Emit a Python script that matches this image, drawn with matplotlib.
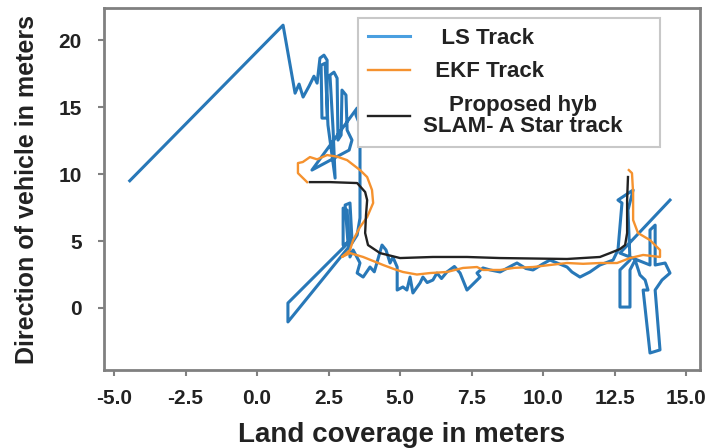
import matplotlib.pyplot as plt

plt.rcParams['font.family'] = ['Liberation Sans', 'DejaVu Sans']
plt.rcParams['font.weight'] = 'bold'

# LS track (noisy least-squares estimate)
ls_x = [-4.45, 0.91, 1.33, 1.47, 1.61, 1.82, 1.99, 2.10, 2.20, 2.34, 2.45, 2.45, 2.27, 2.24,
        2.38, 2.48, 2.73, 2.66, 2.55, 2.69, 2.80, 2.83, 2.94, 2.97, 3.11, 3.15, 3.32, 3.22,
        1.92, 3.50, 3.46, 3.60, 3.60, 3.50, 3.32, 1.08, 1.08, 3.18, 3.08, 3.25, 3.32, 3.01,
        3.01, 3.15, 3.25, 3.36, 3.60, 3.50, 3.71, 3.95, 4.10, 4.37, 4.51, 4.65, 4.75, 4.90,
        4.90, 5.10, 5.24, 5.35, 5.45, 5.70, 5.80, 5.95, 6.15, 6.29, 6.45, 6.64, 6.90, 7.10,
        7.34, 7.45, 7.80, 7.69, 7.90, 8.15, 8.50, 8.95, 9.09, 9.40, 9.65, 10.0, 10.24, 10.84,
        11.01, 11.29, 11.64, 11.99, 12.45, 12.62, 12.76, 12.62, 13.15, 12.97, 13.04, 12.69,
        12.69, 13.04, 13.04, 13.22, 13.39, 13.57, 13.67, 13.50, 13.74, 14.09, 13.92, 14.16,
        14.44, 14.27, 13.92, 13.92, 13.74, 13.74, 12.69, 14.44]
ls_y = [9.50, 21.12, 16.04, 16.72, 15.75, 16.57, 17.31, 16.79, 18.66, 18.88, 18.51, 14.18,
        14.18, 18.13, 18.28, 13.66, 9.70, 13.28, 17.39, 17.61, 17.16, 12.54, 12.91, 16.27,
        15.90, 13.28, 12.54, 11.79, 10.30, 14.93, 14.40, 13.66, 6.72, 5.45, 4.85, -1.04,
        0.37, 4.85, 7.69, 7.84, 5.07, 4.70, 7.46, 7.31, 3.81, 4.33, 3.36, 2.61, 2.31, 3.06,
        2.70, 4.70, 4.33, 3.36, 3.80, 3.06, 1.34, 1.57, 1.34, 2.31, 1.12, 1.87, 2.31, 1.90,
        2.09, 2.61, 2.20, 2.69, 3.10, 2.61, 1.34, 1.57, 2.31, 2.61, 2.99, 2.84, 2.69, 3.21,
        3.36, 2.95, 2.84, 3.30, 3.58, 3.06, 2.69, 2.31, 2.69, 3.21, 3.58, 4.33, 7.84, 8.06,
        8.81, 7.31, 3.58, 2.84, 0.07, 0.07, 2.84, 3.58, 2.46, 2.09, 1.34, 1.34, -3.36, -3.13,
        1.34, 2.09, 2.61, 3.36, 3.21, 6.19, 5.82, 3.21, 4.10, 8.06]

# EKF track
ekf_x = [1.75, 1.43, 1.43, 1.60, 1.85, 2.10, 2.45, 2.80, 3.15, 3.60, 3.85, 4.02, 4.06, 3.85,
         3.60, 3.36, 3.25, 2.97, 3.25, 3.71, 4.41, 4.80, 5.10, 5.59, 6.05, 6.64, 7.20, 7.69,
         7.90, 8.50, 9.00, 9.65, 10.24, 10.84, 11.40, 11.99, 12.59, 13.04, 13.50, 14.09,
         14.09, 13.74, 13.32, 13.15, 13.15, 13.11, 13.00]
ekf_y = [9.40, 10.07, 10.82, 10.90, 11.27, 11.10, 11.42, 11.30, 11.04, 10.30, 9.78, 8.81,
         7.84, 6.79, 6.04, 5.07, 4.33, 3.81, 4.10, 3.81, 3.21, 2.90, 2.69, 2.50, 2.61, 2.69,
         2.99, 3.06, 2.84, 2.84, 3.00, 3.06, 3.21, 3.36, 3.30, 3.36, 3.36, 3.73, 3.96, 3.81,
         4.33, 5.07, 5.60, 6.57, 8.58, 10.07, 10.30]

# proposed hybrid SLAM - A* track
hyb_x = [1.85, 2.55, 3.50, 3.78, 3.85, 3.81, 3.78, 3.88, 4.30, 5.00, 6.15, 7.34, 8.50,
         10.84, 11.99, 12.34, 12.69, 12.87, 12.94, 12.94, 12.97]
hyb_y = [9.40, 9.40, 9.33, 8.66, 8.06, 6.94, 5.60, 4.70, 4.10, 3.73, 3.81, 3.81, 3.73,
         3.66, 3.81, 4.10, 4.40, 4.70, 5.60, 8.06, 9.78]

labels = ['   LS Track', '  EKF Track', 'Proposed hyb\nSLAM- A Star track']

fig = plt.figure(figsize=(7.28, 4.48), dpi=100)
ax = fig.add_axes([0.1429, 0.1741, 0.8187, 0.808])

ax.plot(ls_x, ls_y, color='#2878b8', lw=2.2, label=labels[0])
ax.plot(ekf_x, ekf_y, color='#f5922f', lw=1.7, label=labels[1])
ax.plot(hyb_x, hyb_y, color='#222222', lw=1.7, label=labels[2])

ax.set_xlim(-5.35, 15.49)
ax.set_ylim(-4.63, 22.4)
ax.set_xticks([-5, -2.5, 0, 2.5, 5, 7.5, 10, 12.5, 15])
ax.set_xticklabels(['-5.0', '-2.5', '0.0', '2.5', '5.0', '7.5', '10.0', '12.5', '15.0'])
ax.set_yticks([0, 5, 10, 15, 20])

for s in ax.spines.values():
    s.set_color('#808080')
    s.set_linewidth(2.0)
ax.tick_params(axis='both', colors='#808080', length=4, width=1.5, labelcolor='#222222',
               labelsize=15)
ax.tick_params(axis='x', pad=10)
ax.tick_params(axis='y', pad=12)
for t in ax.get_xticklabels() + ax.get_yticklabels():
    t.set_fontweight('bold')

ax.set_xlabel('Land coverage in meters', fontsize=20, fontweight='bold', color='#222222',
              labelpad=10)
ax.set_ylabel('Direction of vehicle in meters', fontsize=18, fontweight='bold',
              color='#222222', labelpad=14)

leg = ax.legend(loc='upper left', bbox_to_anchor=(0.426, 0.6, 0.507, 0.372), mode='expand',
                borderaxespad=0, fontsize=16, handlelength=1.9, handletextpad=0.6,
                labelspacing=0.55, fancybox=False, edgecolor='#c8c8c8', framealpha=1,
                borderpad=0.45)
leg.get_frame().set_linewidth(1.5)
for t in leg.get_texts():
    t.set_fontweight('bold')
    t.set_color('#222222')
    t.set_multialignment('center')
    t.set_linespacing(1.05)
leg.get_lines()[0].set_color('#4a9fe0')

fig.savefig('out.png', dpi=100)
